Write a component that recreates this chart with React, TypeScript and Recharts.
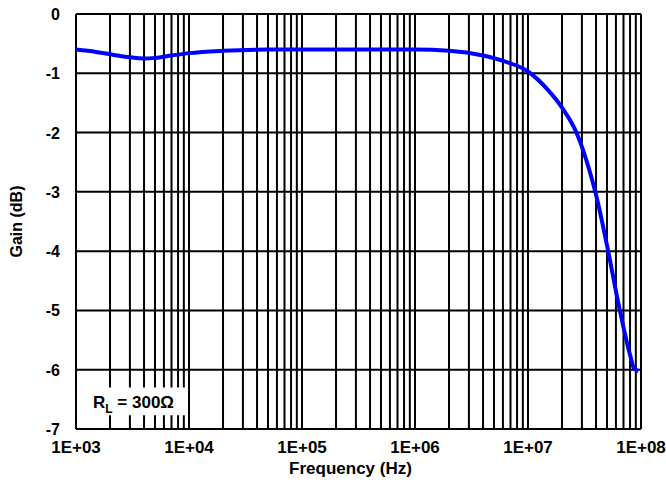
import React from 'react';
import {
  LineChart,
  Line,
  XAxis,
  YAxis,
  CartesianGrid,
  ReferenceArea,
  Label,
} from 'recharts';

// frequency (Hz) and gain (dB)
const freqs = [
  1e3, 1.5e3, 2e3, 3e3, 4e3, 5e3, 7e3, 1e4, 2e4, 5e4, 1e5, 1e6, 2e6, 4e6, 6e6,
  1e7, 1.5e7, 2e7, 2.7e7, 3.5e7, 4e7, 5e7, 6.5e7, 8e7, 8.7e7, 9.5e7,
];
const gains = [
  -0.6, -0.64, -0.68, -0.73, -0.75, -0.74, -0.7, -0.66, -0.62, -0.6, -0.6, -0.6, -0.62, -0.7, -0.79,
  -0.97, -1.28, -1.58, -2.01, -2.64, -3.05, -3.9, -5.0, -5.75, -5.98, -6.02,
];

const decades = [1e3, 1e4, 1e5, 1e6, 1e7, 1e8];
const mantissas = [1, 2, 3, 4, 5, 6, 7, 8, 9];
const gainTicks = [-7, -6, -5, -4, -3, -2, -1, 0];

// every 1..9 x decade for the log grid
const freqTicks = decades
  .flatMap((d, i) => (i < decades.length - 1 ? mantissas.map((m) => m * d) : [d]));

const data = freqs.map((f, i) => ({ f, g: gains[i] }));

const FONT = '"Liberation Sans", Arial, sans-serif';

const fmtFreq = (v: number) => {
  const e = Math.round(Math.log10(v));
  return `1E+${String(e).padStart(2, '0')}`;
};

const XTick = (props: any) => {
  const { x, payload } = props;
  const v = payload.value;
  const isDecade = decades.some((d) => Math.abs(d - v) / d < 1e-6);
  if (!isDecade) return <g />;
  return (
    <text x={x} y={453} textAnchor="middle" fontFamily={FONT} fontWeight="bold" fontSize={17} fill="#000">
      {fmtFreq(v)}
    </text>
  );
};

const YTick = (props: any) => {
  const { y, payload } = props;
  return (
    <text x={60} y={y + 6} textAnchor="end" fontFamily={FONT} fontWeight="bold" fontSize={16} fill="#000">
      {payload.value}
    </text>
  );
};

const RLLabel = (props: any) => {
  const vb = props.viewBox || { x: 0, y: 0 };
  return (
    <text x={vb.x + 16} y={vb.y + 20} fontFamily={FONT} fontWeight="bold" fontSize={17} fill="#000">
      R
      <tspan fontSize={12} dy={5}>L</tspan>
      <tspan dy={-5}> = 300Ω</tspan>
    </text>
  );
};

export default function App() {
  return (
    <div style={{ position: 'absolute', left: 0, top: 0, background: '#fff' }}>
      <LineChart
        width={666}
        height={486}
        data={data}
        margin={{ top: 14, right: 25, left: 0, bottom: 0 }}
      >
        <CartesianGrid stroke="#000" strokeWidth={2} strokeOpacity={1} />
        <XAxis
          dataKey="f"
          type="number"
          scale="log"
          domain={[1e3, 1e8]}
          ticks={freqTicks}
          interval={0}
          allowDataOverflow
          axisLine={false}
          tickLine={false}
          tick={<XTick />}
          height={57}
        >
          <Label
            content={(p: any) => {
              const vb = p.viewBox;
              return (
                <text
                  x={vb.x + vb.width / 2 - 8}
                  y={474}
                  textAnchor="middle"
                  fontFamily={FONT}
                  fontWeight="bold"
                  fontSize={17}
                  fill="#000"
                >
                  Frequency (Hz)
                </text>
              );
            }}
          />
        </XAxis>
        <YAxis
          type="number"
          domain={[-7, 0]}
          ticks={gainTicks}
          interval={0}
          allowDataOverflow
          axisLine={false}
          tickLine={false}
          tick={<YTick />}
          width={76}
        >
          <Label
            content={(p: any) => {
              const vb = p.viewBox;
              const cy = vb.y + vb.height / 2;
              return (
                <text
                  x={22}
                  y={cy}
                  transform={`rotate(-90, 22, ${cy})`}
                  textAnchor="middle"
                  fontFamily={FONT}
                  fontWeight="bold"
                  fontSize={16}
                  fill="#000"
                >
                  Gain (dB)
                </text>
              );
            }}
          />
        </YAxis>
        <ReferenceArea
          x1={1.02e3}
          x2={9.4e3}
          y1={-6.77}
          y2={-6.3}
          fill="#fff"
          fillOpacity={1}
          stroke="none"
          label={<RLLabel />}
        />
        <Line
          type="monotone"
          dataKey="g"
          stroke="#0000ff"
          strokeWidth={4}
          dot={false}
          isAnimationActive={false}
        />
      </LineChart>
    </div>
  );
}
